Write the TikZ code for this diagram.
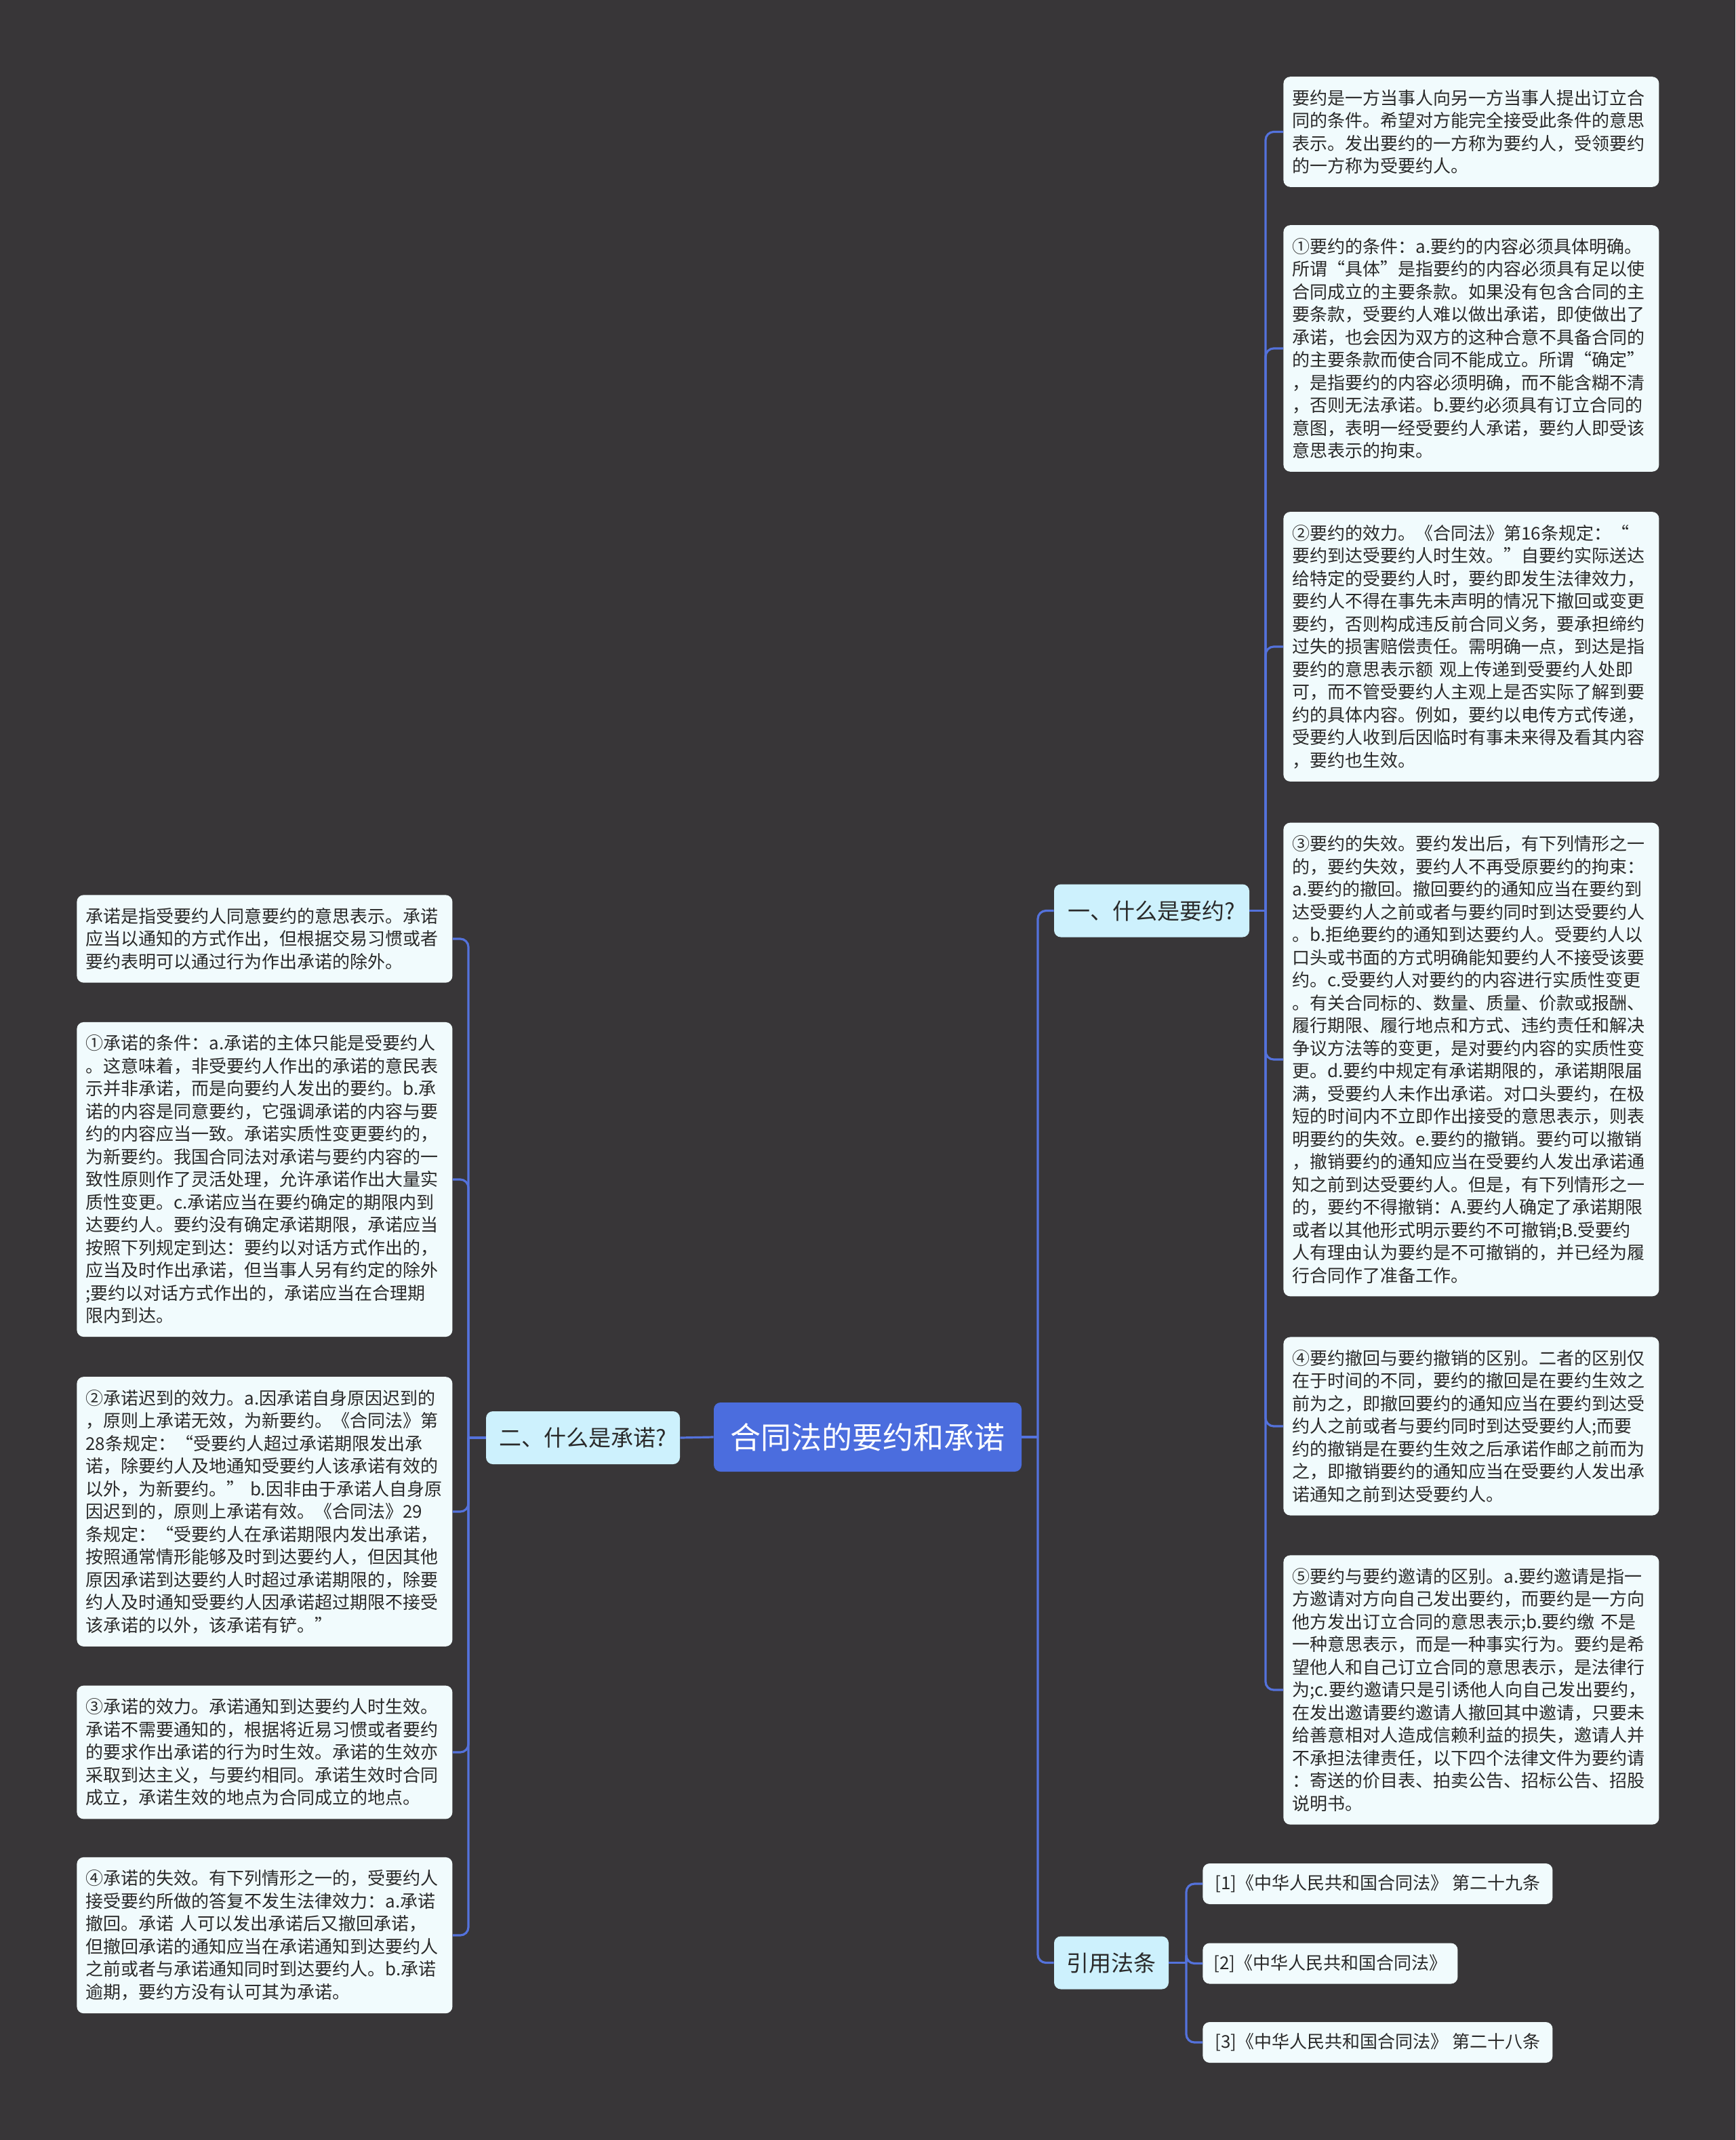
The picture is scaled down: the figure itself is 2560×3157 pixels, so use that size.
\documentclass[tikz,border=0pt]{standalone}
\usepackage{fontspec}
\newfontfamily\cjk{Noto Sans CJK SC}
\definecolor{bgc}{HTML}{383638}
\definecolor{linkc}{HTML}{5472DC}
\definecolor{rootc}{HTML}{4B6DDE}
\definecolor{lvonec}{HTML}{CDF1FD}
\definecolor{leafc}{HTML}{F1FBFD}
\definecolor{txtc}{HTML}{2A2A2A}
\tikzset{
  conn/.style={draw=linkc, line width=1.6pt, rounded corners=6pt},
  rootbox/.style={fill=rootc, rounded corners=5pt, text=white, font={\cjk\fontsize{22.5}{27}\selectfont}, minimum width=227pt, minimum height=51pt, inner sep=0pt},
  lvone/.style={fill=lvonec, rounded corners=5pt, text=txtc, font={\cjk\fontsize{16.5}{20}\selectfont}, minimum height=39pt, inner sep=0pt},
  leaf/.style={fill=leafc, rounded corners=5pt, text=txtc, font={\cjk\fontsize{13}{16.75}\selectfont}, align=left, text width=264pt, inner xsep=6.5pt, inner ysep=9.5pt, anchor=west},
  refbox/.style={fill=leafc, rounded corners=5pt, text=txtc, font={\cjk\fontsize{13}{16.75}\selectfont}, minimum height=30pt, inner sep=0pt, anchor=west}
}
\begin{document}
\begin{tikzpicture}[x=0.5pt,y=-0.5pt]
\fill[bgc] (0,0) rectangle (2560,3157);
\useasboundingbox (0,0) rectangle (2560,3157);

% root and first level
\node[rootbox] (root) at (1280,2120) {合同法的要约和承诺};
\node[lvone, minimum width=144pt] (yy) at (1699,1343.5) {一、什么是要约?};
\node[lvone, minimum width=143pt] (cn) at (860,2121) {二、什么是承诺?};
\node[lvone, minimum width=84.5pt] (yf) at (1639.5,2895.5) {引用法条};

% right leaves
\node[leaf] (r1) at (1893,194.5) {要约是一方当事人向另一方当事人提出订立合\\同的条件。希望对方能完全接受此条件的意思\\表示。发出要约的一方称为要约人，受领要约\\的一方称为受要约人。};
\node[leaf] (r2) at (1893,514) {①要约的条件：a.要约的内容必须具体明确。\\所谓“具体”是指要约的内容必须具有足以使\\合同成立的主要条款。如果没有包含合同的主\\要条款，受要约人难以做出承诺，即使做出了\\承诺，也会因为双方的这种合意不具备合同的\\的主要条款而使合同不能成立。所谓“确定”\\，是指要约的内容必须明确，而不能含糊不清\\，否则无法承诺。b.要约必须具有订立合同的\\意图，表明一经受要约人承诺，要约人即受该\\意思表示的拘束。};
\node[leaf] (r3) at (1893,954) {②要约的效力。《合同法》第16条规定：“\\要约到达受要约人时生效。”自要约实际送达\\给特定的受要约人时，要约即发生法律效力，\\要约人不得在事先未声明的情况下撤回或变更\\要约，否则构成违反前合同义务，要承担缔约\\过失的损害赔偿责任。需明确一点，到达是指\\要约的意思表示额 观上传递到受要约人处即\\可，而不管受要约人主观上是否实际了解到要\\约的具体内容。例如，要约以电传方式传递，\\受要约人收到后因临时有事未来得及看其内容\\，要约也生效。};
\node[leaf] (r4) at (1893,1563) {③要约的失效。要约发出后，有下列情形之一\\的，要约失效，要约人不再受原要约的拘束：\\a.要约的撤回。撤回要约的通知应当在要约到\\达受要约人之前或者与要约同时到达受要约人\\。b.拒绝要约的通知到达要约人。受要约人以\\口头或书面的方式明确能知要约人不接受该要\\约。c.受要约人对要约的内容进行实质性变更\\。有关合同标的、数量、质量、价款或报酬、\\履行期限、履行地点和方式、违约责任和解决\\争议方法等的变更，是对要约内容的实质性变\\更。d.要约中规定有承诺期限的，承诺期限届\\满，受要约人未作出承诺。对口头要约，在极\\短的时间内不立即作出接受的意思表示，则表\\明要约的失效。e.要约的撤销。要约可以撤销\\，撤销要约的通知应当在受要约人发出承诺通\\知之前到达受要约人。但是，有下列情形之一\\的，要约不得撤销：A.要约人确定了承诺期限\\或者以其他形式明示要约不可撤销;B.受要约\\人有理由认为要约是不可撤销的，并已经为履\\行合同作了准备工作。};
\node[leaf] (r5) at (1893,2104) {④要约撤回与要约撤销的区别。二者的区别仅\\在于时间的不同，要约的撤回是在要约生效之\\前为之，即撤回要约的通知应当在要约到达受\\约人之前或者与要约同时到达受要约人;而要\\约的撤销是在要约生效之后承诺作邮之前而为\\之，即撤销要约的通知应当在受要约人发出承\\诺通知之前到达受要约人。};
\node[leaf] (r6) at (1893,2493) {⑤要约与要约邀请的区别。a.要约邀请是指一\\方邀请对方向自己发出要约，而要约是一方向\\他方发出订立合同的意思表示;b.要约缴 不是\\一种意思表示，而是一种事实行为。要约是希\\望他人和自己订立合同的意思表示，是法律行\\为;c.要约邀请只是引诱他人向自己发出要约，\\在发出邀请要约邀请人撤回其中邀请，只要未\\给善意相对人造成信赖利益的损失，邀请人并\\不承担法律责任，以下四个法律文件为要约请\\：寄送的价目表、拍卖公告、招标公告、招股\\说明书。};

% left leaves
\node[leaf] (l1) at (113,1385) {承诺是指受要约人同意要约的意思表示。承诺\\应当以通知的方式作出，但根据交易习惯或者\\要约表明可以通过行为作出承诺的除外。};
\node[leaf] (l2) at (113,1740) {①承诺的条件：a.承诺的主体只能是受要约人\\。这意味着，非受要约人作出的承诺的意民表\\示并非承诺，而是向要约人发出的要约。b.承\\诺的内容是同意要约，它强调承诺的内容与要\\约的内容应当一致。承诺实质性变更要约的，\\为新要约。我国合同法对承诺与要约内容的一\\致性原则作了灵活处理，允许承诺作出大量实\\质性变更。c.承诺应当在要约确定的期限内到\\达要约人。要约没有确定承诺期限，承诺应当\\按照下列规定到达：要约以对话方式作出的，\\应当及时作出承诺，但当事人另有约定的除外\\;要约以对话方式作出的，承诺应当在合理期\\限内到达。};
\node[leaf] (l3) at (113,2230) {②承诺迟到的效力。a.因承诺自身原因迟到的\\，原则上承诺无效，为新要约。《合同法》第\\28条规定：“受要约人超过承诺期限发出承\\诺，除要约人及地通知受要约人该承诺有效的\\以外，为新要约。” b.因非由于承诺人自身原\\因迟到的，原则上承诺有效。《合同法》29\\条规定：“受要约人在承诺期限内发出承诺，\\按照通常情形能够及时到达要约人，但因其他\\原因承诺到达要约人时超过承诺期限的，除要\\约人及时通知受要约人因承诺超过期限不接受\\该承诺的以外，该承诺有铲。”};
\node[leaf] (l4) at (113,2585) {③承诺的效力。承诺通知到达要约人时生效。\\承诺不需要通知的，根据将近易习惯或者要约\\的要求作出承诺的行为时生效。承诺的生效亦\\采取到达主义，与要约相同。承诺生效时合同\\成立，承诺生效的地点为合同成立的地点。};
\node[leaf] (l5) at (113,2855) {④承诺的失效。有下列情形之一的，受要约人\\接受要约所做的答复不发生法律效力：a.承诺\\撤回。承诺 人可以发出承诺后又撤回承诺，\\但撤回承诺的通知应当在承诺通知到达要约人\\之前或者与承诺通知同时到达要约人。b.承诺\\逾期，要约方没有认可其为承诺。};

% references
\node[refbox, minimum width=258pt] (f1) at (1774,2779) {[1]《中华人民共和国合同法》 第二十九条};
\node[refbox, minimum width=188pt] (f2) at (1774,2896.5) {[2]《中华人民共和国合同法》};
\node[refbox, minimum width=258pt] (f3) at (1774,3013) {[3]《中华人民共和国合同法》 第二十八条};

% junctions
\coordinate (jR) at (1531,2120);
\coordinate (jY) at (1867,1343.5);
\coordinate (jL) at (691,2121);
\coordinate (jF) at (1750,2895.5);

% connectors
\draw[conn] (root.east) -- (jR);
\draw[conn] (jR) |- (yy.west);
\draw[conn] (jR) |- (yf.west);
\draw[conn] (root.west) -- (cn.east);

\draw[conn] (yy.east) -- (jY);
\foreach \n in {r1,r2,r3,r4,r5,r6} {\draw[conn] (jY) |- (\n.west);}

\draw[conn] (cn.west) -- (jL);
\foreach \n in {l1,l2,l3,l4,l5} {\draw[conn] (jL) |- (\n.east);}

\draw[conn] (yf.east) -- (jF);
\foreach \n in {f1,f2,f3} {\draw[conn] (jF) |- (\n.west);}
\end{tikzpicture}
\end{document}
